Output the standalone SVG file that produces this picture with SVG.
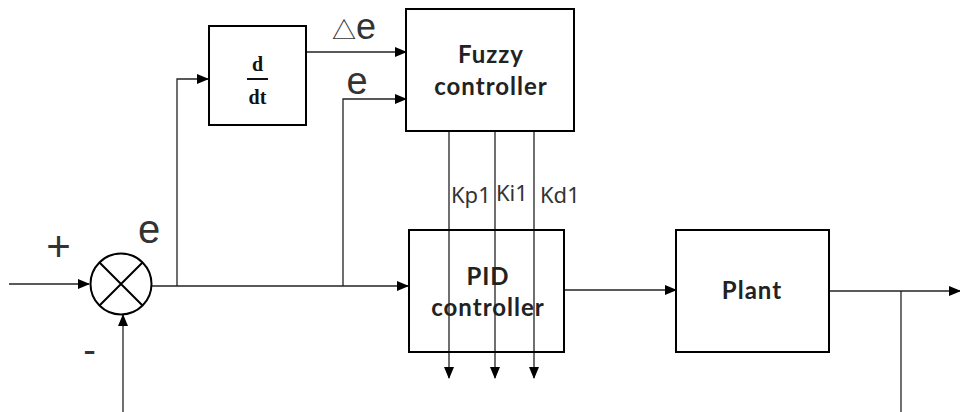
<svg xmlns="http://www.w3.org/2000/svg" width="960" height="412" viewBox="0 0 960 412">
<defs>
<marker id="ah" markerWidth="12" markerHeight="10" refX="11" refY="5" orient="auto" markerUnits="userSpaceOnUse">
<path d="M0,0 L12,5 L0,10 Z" fill="#000"/>
</marker>
</defs>
<style>
.box{fill:#fff;stroke:#000;stroke-width:2}
.ln{fill:none;stroke:#222;stroke-width:1.3}
.bt{font-family:"Lato","Noto Sans",sans-serif;font-weight:bold;font-size:24px;letter-spacing:1px;fill:#222;text-anchor:middle}
.lb{font-family:"Liberation Sans","Noto Sans",sans-serif;fill:#333;text-anchor:middle}
.k{font-family:"Noto Sans","Liberation Sans",sans-serif;font-size:22px;fill:#333}
.sr{font-family:"Liberation Serif",serif;font-weight:bold;font-size:20px;fill:#111;text-anchor:middle}
</style>
<rect width="960" height="412" fill="#fff"/>
<g id="connectors">
<path class="ln" d="M9,284 H89" marker-end="url(#ah)"/>
<path class="ln" d="M123,412 V315" marker-end="url(#ah)"/>
<path class="ln" d="M152,286 H408" marker-end="url(#ah)"/>
<path class="ln" d="M177,286 V79 H208" marker-end="url(#ah)"/>
<path class="ln" d="M307,52 H406" marker-end="url(#ah)"/>
<path class="ln" d="M343,286 V99 H406" marker-end="url(#ah)"/>
<path class="ln" d="M449,132 V378" marker-end="url(#ah)"/>
<path class="ln" d="M495,132 V378" marker-end="url(#ah)"/>
<path class="ln" d="M534,132 V378" marker-end="url(#ah)"/>
<path class="ln" d="M564,290 H676" marker-end="url(#ah)"/>
<path class="ln" d="M829,291 H960" marker-end="url(#ah)"/>
<path class="ln" d="M901,291 V412"/>
</g>
<g id="sum">
<circle cx="121" cy="284" r="30.5" fill="#fff" stroke="#000" stroke-width="2"/>
<path d="M99.5,262.5 L142.5,305.5 M142.5,262.5 L99.5,305.5" stroke="#000" stroke-width="2"/>
</g>
<g id="ddt">
<rect class="box" x="209" y="26" width="97" height="99"/>
<text class="sr" x="257.5" y="71">d</text>
<line x1="247" y1="79" x2="268" y2="79" stroke="#111" stroke-width="2"/>
<text class="sr" x="257.5" y="104">dt</text>
</g>
<g id="fuzzy">
<rect class="box" x="406" y="9" width="168" height="122"/>
<text class="bt" x="491" y="63">Fuzzy</text>
<text class="bt" x="491" y="95">controller</text>
</g>
<g id="pid">
<rect x="409" y="230" width="155" height="122" fill="none" stroke="#000" stroke-width="2"/>
<text class="bt" x="488" y="285">PID</text>
<text class="bt" x="488" y="316">controller</text>
</g>
<g id="plant">
<rect class="box" x="676" y="230" width="153" height="122"/>
<text class="bt" x="752" y="299">Plant</text>
</g>
<g id="labels">
<text x="332" y="39" font-family="'Noto Sans CJK SC',sans-serif" font-size="24" fill="#333">△<tspan font-family="'Liberation Sans',sans-serif" font-size="36">e</tspan></text>
<text class="lb" x="357" y="94" font-size="38">e</text>
<text class="lb" x="149" y="243" font-size="40">e</text>
<text class="lb" x="58.5" y="261" font-size="42">+</text>
<text class="lb" x="89.5" y="363" font-size="38">-</text>
<text class="k" x="451" y="203">Kp1</text>
<text class="k" x="496" y="201">Ki1</text>
<text class="k" x="540" y="203">Kd1</text>
</g>
</svg>
